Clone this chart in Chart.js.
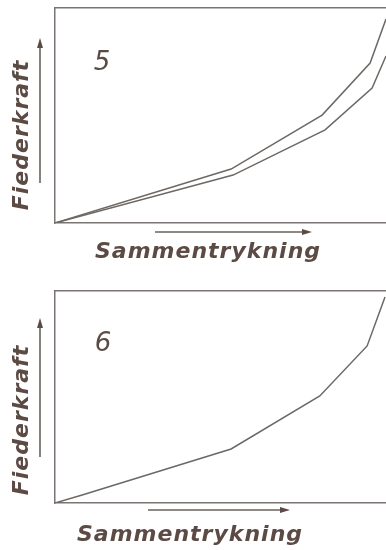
<!DOCTYPE html>
<html>
<head>
<meta charset="utf-8">
<script src="https://cdn.jsdelivr.net/npm/chart.js@4"></script>
<style>
  html, body { margin: 0; padding: 0; background: #ffffff; }
  body { width: 386px; height: 550px; position: relative; overflow: hidden; }
  .panel { position: absolute; left: 0; width: 386px; height: 275px; }
</style>
</head>
<body>
<div class="panel" style="top:0"><canvas id="chart5"></canvas></div>
<div class="panel" style="top:275px"><canvas id="chart6"></canvas></div>
<script>
// Figur 5: to kurver (pålastning / avlastning)
const compression5Upper = [0, 53.2, 80.7, 95.2, 100];
const force5Upper = [0, 25.1, 50.2, 74.4, 94.9];
const compression5Lower = [0, 53.8, 81.6, 95.8, 100];
const force5Lower = [0, 22.3, 43.3, 62.8, 77.7];

// Figur 6: en kurve
const compression6 = [0, 8.2, 53.2, 80, 94.3, 99.7];
const force6 = [0, 3.8, 25.5, 50.5, 74.1, 97.2];

const yTitle = 'Fiederkraft';
const xTitle = 'Sammentrykning';

const lineColor = '#6d6864';
const frameColor = '#7a7572';
const textColor = '#5c4b44';

function toPoints(xs, ys) {
    return xs.map((x, i) => ({ x: x, y: ys[i] }));
}

function arrow(ctx, x1, y1, x2, y2) {
    const ang = Math.atan2(y2 - y1, x2 - x1);
    ctx.beginPath();
    ctx.moveTo(x1, y1);
    ctx.lineTo(x2 - 6 * Math.cos(ang), y2 - 6 * Math.sin(ang));
    ctx.stroke();
    ctx.beginPath();
    ctx.moveTo(x2, y2);
    ctx.lineTo(x2 - 10 * Math.cos(ang) + 3 * Math.sin(ang), y2 - 10 * Math.sin(ang) - 3 * Math.cos(ang));
    ctx.lineTo(x2 - 10 * Math.cos(ang) - 3 * Math.sin(ang), y2 - 10 * Math.sin(ang) + 3 * Math.cos(ang));
    ctx.closePath();
    ctx.fill();
}

// tekst og piler rundt plottet
const labelsPlugin = {
    id: 'labels',
    afterDraw(chart, args, opts) {
        const ctx = chart.ctx;
        const a = chart.chartArea;
        ctx.save();
        ctx.fillStyle = textColor;
        ctx.strokeStyle = '#6a625e';
        ctx.lineWidth = 1.6;

        // figurnummer
        ctx.font = 'oblique 26px "DejaVu Sans"';
        ctx.textAlign = 'center';
        ctx.textBaseline = 'middle';
        ctx.fillText(opts.number, a.left + opts.numberDx, a.top + opts.numberDy);

        // y-aksetittel
        ctx.save();
        ctx.translate(a.left - 33, opts.yTitleY);
        ctx.rotate(-Math.PI / 2);
        ctx.font = 'bold oblique 22px "DejaVu Sans"';
        ctx.letterSpacing = '1px';
        ctx.fillText(yTitle, 0, 0);
        ctx.restore();

        // x-aksetittel
        ctx.font = 'bold oblique 22px "DejaVu Sans"';
        ctx.letterSpacing = '1px';
        ctx.fillText(xTitle, opts.xTitleX, opts.xTitleY);
        ctx.letterSpacing = '0px';

        // piler
        arrow(ctx, a.left - 15, opts.yArrow[0], a.left - 15, opts.yArrow[1]);
        arrow(ctx, opts.xArrow[0], opts.xArrowY, opts.xArrow[1], opts.xArrowY);
        ctx.restore();
    }
};

function hiddenAxis(position) {
    return {
        type: 'linear', position: position, min: 0, max: 100,
        ticks: { display: false },
        grid: { display: false, drawTicks: false },
        border: { display: true, color: frameColor, width: 1.5 }
    };
}

function makeChart(id, datasets, padding, labelOpts) {
    return new Chart(document.getElementById(id), {
        type: 'scatter',
        data: {
            datasets: datasets.map(d => ({
                data: d,
                showLine: true,
                borderColor: lineColor,
                borderWidth: 1.5,
                pointRadius: 0,
                tension: 0
            }))
        },
        options: {
            responsive: true,
            maintainAspectRatio: false,
            animation: false,
            layout: { padding: padding },
            plugins: {
                legend: { display: false },
                tooltip: { enabled: false },
                labels: labelOpts
            },
            scales: {
                x: hiddenAxis('bottom'),
                x2: hiddenAxis('top'),
                y: hiddenAxis('left')
            }
        },
        plugins: [labelsPlugin]
    });
}

makeChart('chart5',
    [toPoints(compression5Upper, force5Upper), toPoints(compression5Lower, force5Lower)],
    { left: 55, top: 8, right: 0, bottom: 52 },
    { number: '5', numberDx: 47, numberDy: 55,
      yTitleY: 135, xTitleX: 208, xTitleY: 252,
      yArrow: [183, 38], xArrow: [155, 312], xArrowY: 232 });

makeChart('chart6',
    [toPoints(compression6, force6)],
    { left: 55, top: 16, right: 0, bottom: 47 },
    { number: '6', numberDx: 48, numberDy: 53,
      yTitleY: 145, xTitleX: 190, xTitleY: 260,
      yArrow: [182, 43], xArrow: [148, 290], xArrowY: 235 });
</script>
</body>
</html>
